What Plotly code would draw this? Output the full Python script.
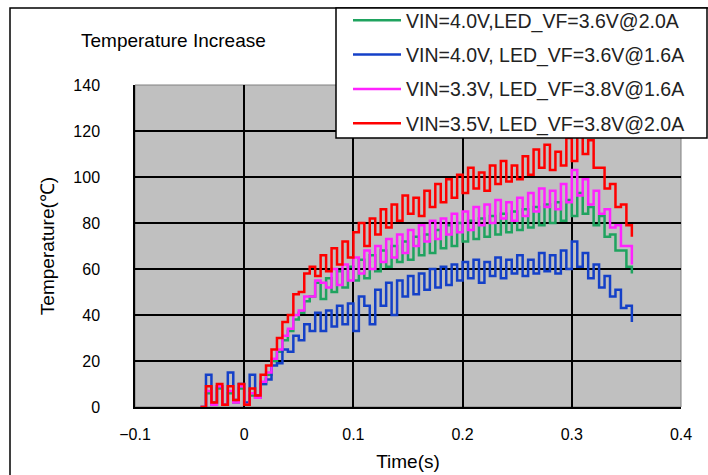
import plotly.graph_objects as go

# ---- data ----
TIME = [-0.040, -0.035, -0.030, -0.025, -0.020, -0.015, -0.010, -0.005,
        0.000, 0.005, 0.010, 0.015, 0.020, 0.025, 0.030, 0.035,
        0.040, 0.045, 0.050, 0.055, 0.060, 0.065, 0.070, 0.075,
        0.080, 0.085, 0.090, 0.095, 0.100, 0.105, 0.110, 0.115,
        0.120, 0.125, 0.130, 0.135, 0.140, 0.145, 0.150, 0.155,
        0.160, 0.165, 0.170, 0.175, 0.180, 0.185, 0.190, 0.195,
        0.200, 0.205, 0.210, 0.215, 0.220, 0.225, 0.230, 0.235,
        0.240, 0.245, 0.250, 0.255, 0.260, 0.265, 0.270, 0.275,
        0.280, 0.285, 0.290, 0.295, 0.300, 0.305, 0.310, 0.315,
        0.320, 0.325, 0.330, 0.335, 0.340, 0.345, 0.350, 0.355]

GREEN_40V_36V_20A = [0, 6, 1, 8, 1, 6, 2, 8, 1, 5, 4, 10, 14, 20, 24, 29,
                     33, 38, 41, 46, 48, 54, 47, 56, 50, 59, 52, 61, 55, 64, 56, 66,
                     59, 68, 61, 70, 63, 72, 64, 74, 66, 75, 67, 77, 69, 79, 70, 80,
                     72, 81, 73, 82, 74, 83, 75, 84, 76, 85, 77, 86, 78, 87, 79, 88,
                     80, 89, 81, 90, 83, 93, 84, 87, 79, 83, 74, 75, 68, 68, 61, 58]

BLUE_40V_36V_16A = [0, 14, 2, 9, 1, 15, 3, 10, 2, 14, 5, 10, 12, 18, 19, 25,
                    24, 31, 29, 36, 33, 41, 33, 42, 35, 44, 36, 45, 33, 48, 44, 36,
                    51, 44, 54, 40, 55, 48, 57, 49, 58, 51, 60, 52, 61, 53, 62, 55,
                    63, 56, 64, 54, 63, 57, 65, 56, 64, 58, 66, 57, 64, 58, 67, 59,
                    66, 58, 68, 60, 72, 61, 67, 56, 62, 52, 57, 48, 51, 43, 44, 37]

MAGENTA_33V_38V_16A = [0, 7, 1, 9, 1, 7, 2, 9, 1, 6, 4, 11, 15, 21, 25, 31,
                       34, 40, 42, 48, 48, 55, 54, 52, 60, 53, 62, 55, 65, 58, 68, 60,
                       70, 63, 73, 65, 75, 67, 77, 70, 79, 72, 81, 73, 82, 75, 84, 76,
                       85, 77, 87, 79, 88, 80, 90, 82, 89, 81, 91, 83, 93, 85, 95, 87,
                       94, 86, 97, 89, 103, 92, 99, 88, 94, 84, 86, 78, 79, 70, 70, 62]

RED_35V_38V_20A = [0, 9, 2, 10, 1, 9, 3, 10, 1, 8, 5, 14, 18, 25, 30, 37,
                   40, 49, 50, 58, 61, 57, 66, 59, 69, 62, 72, 65, 76, 80, 70, 82,
                   75, 86, 78, 88, 81, 92, 84, 91, 83, 94, 87, 97, 89, 99, 91, 101,
                   93, 104, 95, 102, 94, 105, 97, 107, 98, 105, 99, 109, 101, 112, 104, 114,
                   103, 111, 105, 117, 107, 120, 110, 116, 104, 104, 95, 97, 87, 88, 79, 74]

SERIES_NAMES = ["VIN=4.0V,LED_VF=3.6V@2.0A",
                "VIN=4.0V, LED_VF=3.6V@1.6A",
                "VIN=3.3V, LED_VF=3.8V@1.6A",
                "VIN=3.5V, LED_VF=3.8V@2.0A"]
SERIES_VALUES = [GREEN_40V_36V_20A, BLUE_40V_36V_16A, MAGENTA_33V_38V_16A, RED_35V_38V_20A]
SERIES_COLORS = ["#1FA35F", "#1440C8", "#FF22FF", "#FF0000"]

X_TICKS = [-0.1, 0, 0.1, 0.2, 0.3, 0.4]
X_TICK_LABELS = ["\u22120.1", "0", "0.1", "0.2", "0.3", "0.4"]
Y_TICKS = [0, 20, 40, 60, 80, 100, 120, 140]

# ---- layout geometry (pixels) ----
W, H = 708, 475
L, R, T, B = 135, 27, 85, 68
PW, PH = W - L - R, H - T - B


def px_x(p):
    return (p - L) / PW


def px_y(p):
    return (H - B - p) / PH


FONT = "Liberation Sans, Arial, sans-serif"

fig = go.Figure()
for name, vals, col in zip(SERIES_NAMES, SERIES_VALUES, SERIES_COLORS):
    fig.add_trace(go.Scatter(
        x=TIME, y=vals, name=name, mode="lines",
        line=dict(color=col, width=2.5, shape="hv"),
        legendgroup=name,
    ))

fig.update_layout(
    width=W, height=H,
    margin=dict(l=L, r=R, t=T, b=B, autoexpand=False),
    paper_bgcolor="white",
    plot_bgcolor="#C0C0C0",
    font=dict(family=FONT, color="black", size=16),
    showlegend=True,
    legend=dict(
        x=px_x(348), y=px_y(1), xanchor="left", yanchor="top",
        bgcolor="rgba(0,0,0,0)", borderwidth=0,
        font=dict(size=19.5, family=FONT, color="#222222"),
        traceorder="grouped", tracegroupgap=6,
        itemwidth=48,
    ),
    xaxis=dict(
        range=[-0.1, 0.4], tickvals=X_TICKS, ticktext=X_TICK_LABELS,
        showgrid=True, gridcolor="black", gridwidth=1.5,
        zeroline=False, showline=True, linecolor="black", linewidth=1.5,
        ticks="", ticklabelstandoff=12,
        tickfont=dict(size=16),
        title=dict(text="Time(s)", font=dict(size=19), standoff=13),
    ),
    yaxis=dict(
        range=[0, 140], tickvals=Y_TICKS,
        showgrid=True, gridcolor="black", gridwidth=1.5,
        zeroline=False, showline=True, linecolor="black", linewidth=1.5,
        ticks="", ticklabelstandoff=30,
        tickfont=dict(size=16),
        title=dict(text="Temperature(\u2103)", font=dict(size=19), standoff=14),
    ),
    annotations=[dict(
        text="Temperature Increase", showarrow=False,
        xref="paper", yref="paper", x=px_x(79), y=px_y(41),
        xanchor="left", yanchor="middle",
        font=dict(size=19, family=FONT, color="black"),
    )],
    shapes=[
        # outer chart frame
        dict(type="rect", xref="paper", yref="paper",
             x0=px_x(10), x1=px_x(740), y0=px_y(520), y1=px_y(8),
             line=dict(color="black", width=1.5), fillcolor="rgba(0,0,0,0)",
             layer="below"),
        # plot-area border (grey)
        dict(type="rect", xref="paper", yref="paper", x0=0, x1=1, y0=0, y1=1,
             line=dict(color="#808080", width=1), fillcolor="rgba(0,0,0,0)",
             layer="below"),
        # legend box (drawn over the plot, legend entries sit on it)
        dict(type="rect", xref="paper", yref="paper",
             x0=px_x(336), x1=px_x(707), y0=px_y(138), y1=px_y(8),
             line=dict(color="black", width=1.5), fillcolor="white",
             layer="above"),
    ],
)

fig.write_html("out.html", config={"displayModeBar": False},
               post_script="document.body.style.margin='0';")
